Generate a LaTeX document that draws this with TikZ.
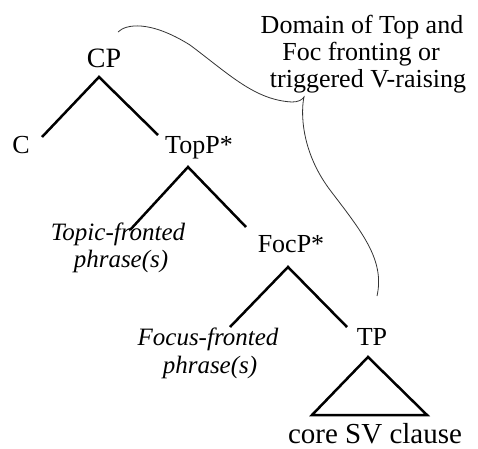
\documentclass[tikz,border=0pt]{standalone}
\usepackage{fontspec}
\setmainfont{Liberation Serif}
\begin{document}
\begin{tikzpicture}[x=1pt,y=-1pt,
  lbl/.style={anchor=base,inner sep=0pt,font=\fontsize{26}{27}\selectfont},
  itl/.style={anchor=base,inner sep=0pt,font=\fontsize{25}{27}\selectfont\itshape},
  branch/.style={line width=2.5pt,black},
  bracket/.style={line width=0.8pt,black!80}]
\useasboundingbox (0,0) rectangle (478,448);
% labels
\node[lbl,font=\fontsize{28}{28}\selectfont] (cp) at (104,67) {CP};
\node[lbl] (c) at (21,153) {C};
\node[lbl] (topp) at (199,153) {TopP*};
\node[itl] (topf1) at (118,240) {Topic-fronted};
\node[itl] (topf2) at (121,267) {phrase(s)};
\node[lbl] (focp) at (291,252) {FocP*};
\node[itl] (focf1) at (208,345) {Focus-fronted};
\node[itl] (focf2) at (210,373) {phrase(s)};
\node[lbl] (tp) at (372,345) {TP};
\node[lbl,font=\fontsize{29}{29}\selectfont] (core) at (375,443) {core SV clause};
\node[lbl] (dom1) at (362,33) {Domain of Top and};
\node[lbl] (dom2) at (361,60) {Foc fronting or};
\node[lbl] (dom3) at (368,87) {triggered V-raising};
% branch points
\coordinate (cpA) at (99,77);
\coordinate (cpL) at (42,137);
\coordinate (cpR) at (158,135);
\coordinate (topA) at (188,167);
\coordinate (topL) at (130,230);
\coordinate (topR) at (246,227);
\coordinate (focA) at (288,267);
\coordinate (focL) at (230,327);
\coordinate (focR) at (347,327);
\coordinate (triA) at (368,357);
\coordinate (triL) at (312,415);
\coordinate (triR) at (427,415);
\draw[branch] (cpL) -- (cpA) -- (cpR);
\draw[branch] (topL) -- (topA) -- (topR);
\draw[branch] (focL) -- (focA) -- (focR);
\draw[branch,line join=miter] (triA) -- (triL) -- (triR) -- cycle;
% bracket
\coordinate (brS) at (118,32);
\coordinate (brT) at (304,97);
\coordinate (brE) at (377,296);
\draw[bracket] (brS) .. controls (126,24) and (150,20) .. (190,45)
  .. controls (230,75) and (255,100) .. (292,102)
  .. controls (298,102) and (302,100) .. (brT)
  .. controls (301,110) and (300,150) .. (330,190)
  .. controls (362,232) and (385,260) .. (brE);
\end{tikzpicture}
\end{document}
